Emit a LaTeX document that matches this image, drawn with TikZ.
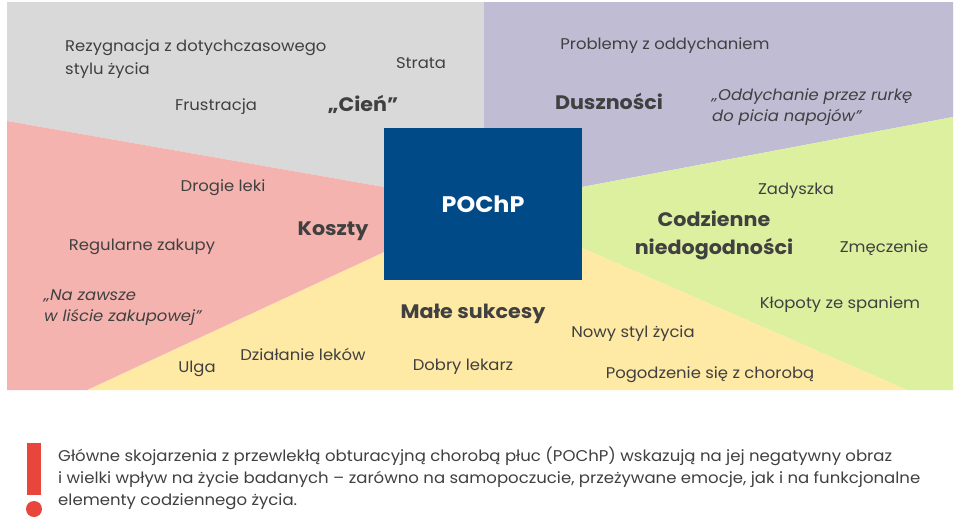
\documentclass[tikz,border=0pt]{standalone}
\usepackage{fontspec}
\setmainfont{Poppins}[FakeStretch=1.06]
\definecolor{cgray}{HTML}{D9D9D9}
\definecolor{cpurple}{HTML}{BFBCD4}
\definecolor{cgreen}{HTML}{DCF0A0}
\definecolor{cyellow}{HTML}{FEE9A5}
\definecolor{cpink}{HTML}{F4B3AE}
\definecolor{cbox}{HTML}{004A87}
\definecolor{ctext}{HTML}{404040}
\definecolor{cred}{HTML}{E8453C}
\begin{document}
\begin{tikzpicture}[x=1pt,y=-1pt,
  lbl/.style={text=ctext,font=\fontsize{15.5}{23}\selectfont,inner sep=0pt,yshift=-2pt},
  head/.style={text=ctext,font=\fontsize{19.5}{28}\selectfont\bfseries,inner sep=0pt,align=center,yshift=-1.5pt},
  quote/.style={text=ctext,font=\fontsize{15.5}{21}\selectfont\itshape,inner sep=0pt,align=left,yshift=-1.5pt}]
\useasboundingbox (0,0) rectangle (960,530);
\fill[white] (0,0) rectangle (960,530);
% regions
\fill[cgray] (7,2) -- (484,2) -- (484,128) -- (384,128) -- (384,187) -- (7,121) -- cycle;
\fill[cpurple] (484,2) -- (953,2) -- (953,117) -- (582,187) -- (582,128) -- (484,128) -- cycle;
\fill[cgreen] (953,117) -- (953,390) -- (907,390) -- (582,248) -- (582,187) -- cycle;
\fill[cyellow] (87,390) -- (384,252) -- (384,280) -- (582,280) -- (582,248) -- (907,390) -- cycle;
\fill[cpink] (7,121) -- (384,187) -- (384,252) -- (87,390) -- (7,390) -- cycle;
\node[fill=cbox,minimum width=198pt,minimum height=152pt,inner sep=0pt,
  text=white,font=\fontsize{22.5}{26}\selectfont\bfseries] (core) at (483,204) {POChP};
% gray
\node[lbl,anchor=west,align=left] (rez) at (65,57) {Rezygnacja z dotychczasowego\\stylu życia};
\node[lbl] (strata) at (421,61) {Strata};
\node[lbl] (frus) at (216,105) {Frustracja};
\node[head] (cien) at (363,103) {„Cień”};
% purple
\node[lbl] (prob) at (665,44) {Problemy z oddychaniem};
\node[head] (dusz) at (609,100) {Duszności};
\node[quote,anchor=west] (rurka) at (712,106) {„Oddychanie przez rurkę\\do picia napojów”};
% pink
\node[lbl] (drogie) at (223,186) {Drogie leki};
\node[head] (koszty) at (333,230) {Koszty};
\node[lbl] (regul) at (142,245) {Regularne zakupy};
\node[quote,anchor=west] (nazaw) at (44,306) {„Na zawsze\\w liście zakupowej”};
% yellow
\node[lbl] (ulga) at (197,367) {Ulga};
\node[lbl] (dzial) at (303,352) {Działanie leków};
\node[head] (male) at (473,312) {Małe sukcesy};
\node[lbl] (dobry) at (463,365) {Dobry lekarz};
\node[lbl] (nowy) at (633,332) {Nowy styl życia};
\node[lbl] (pogodz) at (710,373) {Pogodzenie się z chorobą};
% green
\node[lbl] (zad) at (796,189) {Zadyszka};
\node[head] (codz) at (714,234) {Codzienne\\niedogodności};
\node[lbl] (zmecz) at (884,246) {Zmęczenie};
\node[lbl] (klop) at (840,303) {Kłopoty ze spaniem};
% bottom note
\fill[cred] (27,443) rectangle (41,495);
\fill[cred] (34,509) circle (8);
\node[anchor=west,inner sep=0pt,align=left,text=ctext,font=\fontsize{15.6}{22}\selectfont] (note) at (58,478)
{Główne skojarzenia z przewlekłą obturacyjną chorobą płuc (POChP) wskazują na jej negatywny obraz\\
i wielki wpływ na życie badanych – zarówno na samopoczucie, przeżywane emocje, jak i na funkcjonalne\\
elementy codziennego życia.};
\end{tikzpicture}
\end{document}
